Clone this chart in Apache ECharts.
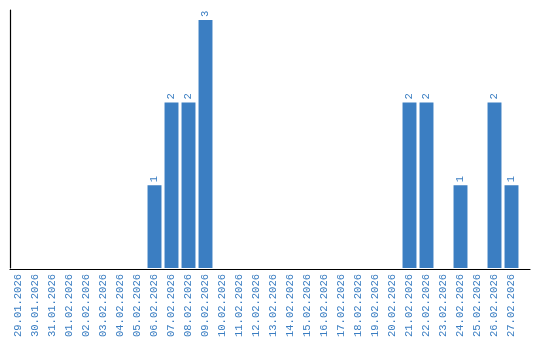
<!DOCTYPE html>
<html><head><meta charset="utf-8">
<script src="https://cdn.jsdelivr.net/npm/echarts@6/dist/echarts.min.js"></script>
<style>html,body{margin:0;padding:0;background:#fff}#c{width:540px;height:340px}</style>
</head><body><div id="c"></div>
<script>
const categories = ["29.01.2026","30.01.2026","31.01.2026","01.02.2026","02.02.2026","03.02.2026","04.02.2026","05.02.2026","06.02.2026","07.02.2026","08.02.2026","09.02.2026","10.02.2026","11.02.2026","12.02.2026","13.02.2026","14.02.2026","15.02.2026","16.02.2026","17.02.2026","18.02.2026","19.02.2026","20.02.2026","21.02.2026","22.02.2026","23.02.2026","24.02.2026","25.02.2026","26.02.2026","27.02.2026"];
const values = [null,null,null,null,null,null,null,null,1,2,2,3,null,null,null,null,null,null,null,null,null,null,null,2,2,null,1,null,2,1];
const blue = '#3b7ec2';
const chart = echarts.init(document.getElementById('c'));
chart.setOption({
  animation:false,
  grid:[{left:10,right:20,top:10,bottom:71},{left:10,right:10,top:10,bottom:71}],
  xAxis:[{type:'category',data:categories,gridIndex:0,
    axisLine:{show:false},axisTick:{show:false},
    axisLabel:{rotate:90,interval:0,color:blue,fontFamily:'Liberation Mono',fontSize:10.5,margin:6}},
    {type:'category',data:[''],gridIndex:1,axisLine:{show:true,lineStyle:{color:'#000',width:1.2}},axisTick:{show:false},axisLabel:{show:false}}],
  yAxis:[{type:'value',min:0,max:3.12,gridIndex:0,axisLine:{show:true,lineStyle:{color:'#000',width:1.2}},axisTick:{show:false},axisLabel:{show:false},splitLine:{show:false}},
    {type:'value',gridIndex:1,show:false}],
  series:[{type:'bar',data:values,xAxisIndex:0,yAxisIndex:0,barCategoryGap:'18%',
    itemStyle:{color:blue},
    label:{show:true,position:'top',rotate:90,align:'left',verticalAlign:'middle',distance:3,color:blue,fontFamily:'Liberation Mono',fontSize:10.5}}]
});
</script></body></html>
